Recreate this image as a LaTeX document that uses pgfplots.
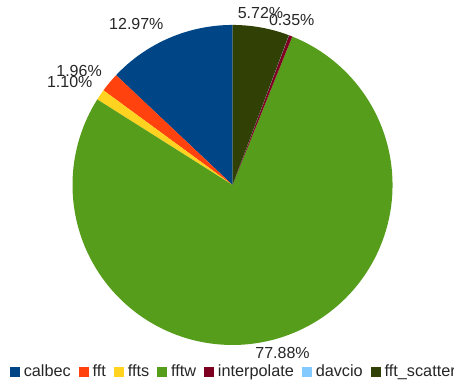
\documentclass[border=0pt]{standalone}
\usepackage{pgfplots}
\pgfplotsset{compat=1.18}
\usepackage{fontspec}
\setmainfont{Liberation Sans}
\definecolor{cCalbec}{HTML}{004586}
\definecolor{cFft}{HTML}{FF420E}
\definecolor{cFfts}{HTML}{FFD320}
\definecolor{cFftw}{HTML}{579D1C}
\definecolor{cInterp}{HTML}{7E0021}
\definecolor{cDavcio}{HTML}{83CAFF}
\definecolor{cScatter}{HTML}{314004}
% slice: start percent, end percent (cumulative), colour, name
\newcommand{\slice}[4]{%
  \pgfmathsetmacro{\angA}{90+3.6*#1}%
  \pgfmathsetmacro{\angB}{90+3.6*#2}%
  \addplot[fill=#3, draw=none, domain=\angA:\angB, samples=150,
    legend image code/.code={\fill[#3] (0pt,-3.6pt) rectangle (7.2pt,3.6pt);}]
    ({cos(x)},{sin(x)}) -- (axis cs:0,0) -- cycle;
  \addlegendentry{#4}
}
\begin{document}
\begin{tikzpicture}
\begin{axis}[
  scale only axis,
  width=340.5pt, height=285.75pt,
  xmin=-1.453, xmax=1.384,
  ymin=-1.225, ymax=1.156,
  hide axis, clip=false,
  legend columns=7,
  legend cell align=left,
  legend style={draw=none, fill=none, inner sep=0pt, column sep=0pt,
    at={(axis cs:-1.391,-1.168)}, anchor=west,
    font=\fontsize{12.2}{14.6}\selectfont,
    text=black!85,
    nodes={inner sep=0pt},
    /tikz/every odd column/.style={column sep=3pt},
    /tikz/every even column/.style={column sep=6.2pt}},
]
% percentages: calbec 12.97, fft 1.96, ffts 1.10, fftw 77.88,
% interpolate 0.35, davcio 0.02, fft_scatter 5.72
\slice{0}{12.97}{cCalbec}{calbec}
\slice{12.97}{14.93}{cFft}{fft}
\slice{14.93}{16.03}{cFfts}{ffts}
\slice{16.03}{93.91}{cFftw}{fftw}
\slice{93.91}{94.26}{cInterp}{interpolate}
\slice{94.26}{94.28}{cDavcio}{davcio}
\slice{94.28}{100}{cScatter}{fft\_scatter}
\begin{scope}[every node/.style={font=\fontsize{12}{14}\selectfont, text=black!85, inner sep=0pt}]
\node at (axis cs:-0.601,1.008) {12.97\%};
\node at (axis cs:-0.959,0.7125) {1.96\%};
\node at (axis cs:-1.017,0.642) {1.10\%};
\node at (axis cs:0.175,1.076) {5.72\%};
\node at (axis cs:0.370,1.029) {0.35\%};
\node at (axis cs:0.3125,-1.053) {77.88\%};
\end{scope}
\end{axis}
\pgfresetboundingbox
\path[use as bounding box] (current axis.south west) rectangle (current axis.north east);
\end{tikzpicture}
\end{document}
